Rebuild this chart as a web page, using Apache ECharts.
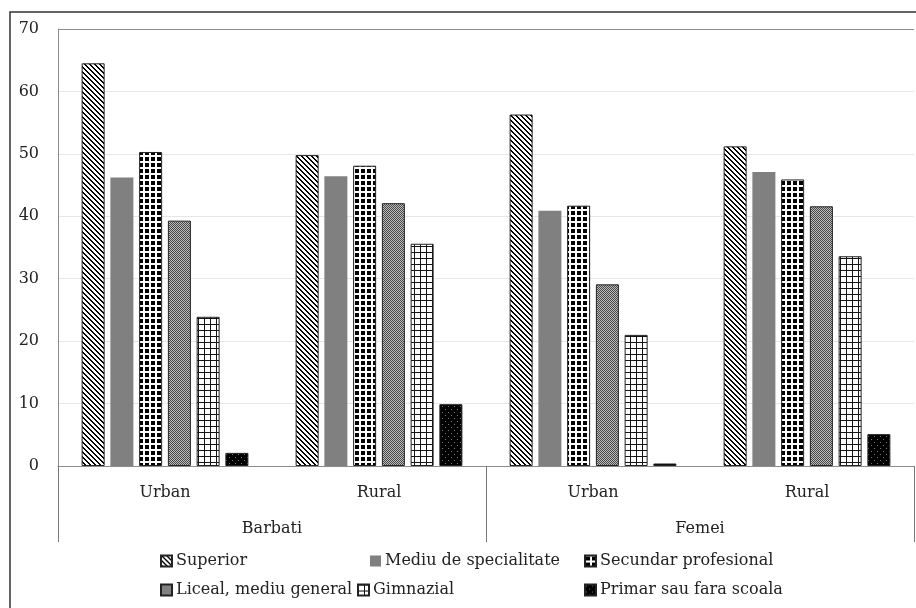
<!DOCTYPE html>
<html>
<head>
<meta charset="utf-8">
<script src="https://cdn.jsdelivr.net/npm/echarts@6/dist/echarts.min.js"></script>
<style>
html,body{margin:0;padding:0;background:#fff;}
#chart{width:916px;height:608px;}
</style>
</head>
<body>
<div id="chart"></div>
<script>
// ---- data ----
const subCategories = ['Urban', 'Rural', 'Urban', 'Rural'];
const groups = ['Barbati', 'Femei'];
const seriesNames = ['Superior', 'Mediu de specialitate', 'Secundar profesional', 'Liceal, mediu general', 'Gimnazial', 'Primar sau fara scoala'];
const superior = [64.5, 49.8, 56.3, 51.2];
const mediu = [46.2, 46.4, 40.9, 47.1];
const secundar = [50.3, 48.1, 41.7, 45.9];
const liceal = [39.3, 42.1, 29.1, 41.6];
const gimnazial = [23.9, 35.6, 21.0, 33.6];
const primar = [2.1, 9.9, 0.4, 5.1];
const yTicks = [0, 10, 20, 30, 40, 50, 60, 70];

// ---- patterns ----
function tile(w, h, fn) {
  const c = document.createElement('canvas');
  c.width = w; c.height = h;
  const g = c.getContext('2d');
  const img = g.createImageData(w, h);
  for (let y = 0; y < h; y++) for (let x = 0; x < w; x++) {
    const v = fn(x, y);
    const i = (y * w + x) * 4;
    img.data[i] = v; img.data[i + 1] = v; img.data[i + 2] = v; img.data[i + 3] = 255;
  }
  g.putImageData(img, 0, 0);
  return c;
}
const pStripes = tile(5, 5, (x, y) => (((x - y) % 5 + 5) % 5) < 2 ? 0 : 255);
const pDots = tile(6, 6, (x, y) => {
  const dx = x - 2.5, dy = y - 2.5;
  return (dx * dx + dy * dy) <= 4.6 ? 0 : 255;
});
const pFine = tile(2, 2, (x, y) => ((x + y) % 2 === 0) ? 70 : 190);
const pGrid = tile(6, 6, (x, y) => (x === 0 || y === 0) ? 20 : 255);
const pBlack = tile(6, 6, (x, y) => ((x === 1 && y === 1) || (x === 4 && y === 4)) ? 120 : 0);

const fills = [
  {image: pStripes, repeat: 'repeat'},
  '#808080',
  {image: pDots, repeat: 'repeat'},
  {image: pFine, repeat: 'repeat'},
  {image: pGrid, repeat: 'repeat'},
  {image: pBlack, repeat: 'repeat'}
];
const values = [superior, mediu, secundar, liceal, gimnazial, primar];

const FONT = 'DejaVu Serif';
const series = seriesNames.map((n, i) => ({
  name: n,
  type: 'bar',
  xAxisIndex: 0,
  yAxisIndex: 0,
  barWidth: 23,
  barGap: '25%',
  data: values[i],
  itemStyle: {
    color: fills[i],
    borderColor: i === 1 ? '#808080' : '#222',
    borderWidth: i === 1 ? 0 : 1
  },
  emphasis: {disabled: true}
}));

const legendPos = [
  {left: 160, top: 553}, {left: 370, top: 553}, {left: 584, top: 553},
  {left: 160, top: 582}, {left: 357, top: 582}, {left: 584, top: 582}
];
const legends = seriesNames.map((n, i) => ({
  data: [n],
  left: legendPos[i].left,
  top: legendPos[i].top,
  icon: 'rect',
  itemWidth: 11,
  itemHeight: 11,
  padding: 0,
  selectedMode: false,
  textStyle: {fontFamily: FONT, fontSize: 16, color: '#222', padding: [0, 0, 0, -1]}
}));

const chart = echarts.init(document.getElementById('chart'), null, {renderer: 'canvas'});
chart.setOption({
  backgroundColor: '#fff',
  animation: false,
  grid: {left: 58, right: 2, top: 29, bottom: 142, containLabel: false},
  legend: legends,
  xAxis: [
    {
      type: 'category',
      data: subCategories,
      position: 'bottom',
      axisLine: {show: true, lineStyle: {color: '#8c8c8c', width: 1}},
      axisTick: {show: false},
      axisLabel: {margin: 19, fontFamily: FONT, fontSize: 16, color: '#222'}
    },
    {
      type: 'category',
      data: groups,
      position: 'bottom',
      axisLine: {show: false},
      axisTick: {show: true, length: 76, lineStyle: {color: '#777', width: 1}},
      axisLabel: {margin: 55, fontFamily: FONT, fontSize: 16, color: '#222'}
    }
  ],
  yAxis: {
    type: 'value',
    min: 0,
    max: 70,
    interval: 10,
    axisLine: {show: true, lineStyle: {color: '#8c8c8c'}},
    axisTick: {show: false},
    axisLabel: {margin: 19, fontFamily: FONT, fontSize: 16, color: '#222',
      formatter: v => yTicks.indexOf(v) >= 0 ? String(v) : ''},
    splitLine: {show: true, lineStyle: {color: ['#e6e6e6','#e6e6e6','#e6e6e6','#e6e6e6','#e6e6e6','#e6e6e6','#e6e6e6','#8c8c8c'], width: 1}}
  },
  series: series,
  graphic: [{
    type: 'rect',
    silent: true,
    shape: {x: 10, y: 12, width: 1000, height: 1000},
    style: {fill: 'none', stroke: '#333', lineWidth: 1.5},
    z: 100
  }]
});
</script>
</body>
</html>
